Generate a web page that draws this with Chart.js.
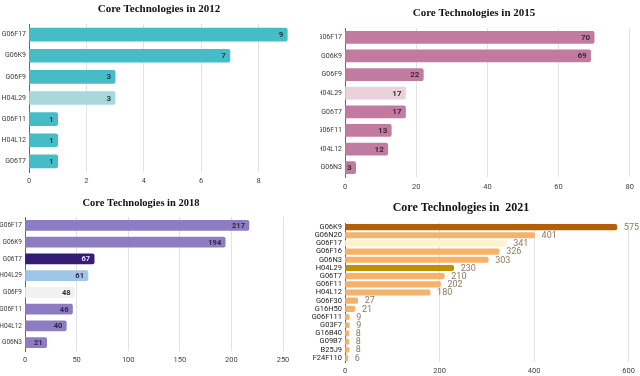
<!DOCTYPE html>
<html>
<head>
<meta charset="utf-8">
<script src="https://cdn.jsdelivr.net/npm/chart.js@4.4.1/dist/chart.umd.min.js"></script>
<style>
    html, body { margin: 0; padding: 0; background: #fff; }
    body { width: 640px; height: 376px; position: relative; overflow: hidden; }
    canvas { position: absolute; }
</style>
</head>
<body>
<canvas id="c2012" style="left:0;top:0"></canvas>
<canvas id="c2015" style="left:320px;top:0"></canvas>
<canvas id="c2018" style="left:0;top:190px"></canvas>
<canvas id="c2021" style="left:290px;top:190px"></canvas>
<script>
// Data
const cats2012 = ['G06F17', 'G06K9', 'G06F9', 'H04L29', 'G06F11', 'H04L12', 'G06T7'];
const vals2012 = [9, 7, 3, 3, 1, 1, 1];

const cats2015 = ['G06F17', 'G06K9', 'G06F9', 'H04L29', 'G06T7', 'G06F11', 'H04L12', 'G06N3'];
const vals2015 = [70, 69, 22, 17, 17, 13, 12, 3];

const cats2018 = ['G06F17', 'G06K9', 'G06T7', 'H04L29', 'G06F9', 'G06F11', 'H04L12', 'G06N3'];
const vals2018 = [217, 194, 67, 61, 48, 46, 40, 21];

const cats2021 = ['G06K9', 'G06N20', 'G06F17', 'G06F16', 'G06N3', 'H04L29', 'G06T7', 'G06F11',
    'H04L12', 'G06F30', 'G16H50', 'G06F111', 'G03F7', 'G16B40', 'G09B7', 'B25J9', 'F24F110'];
const vals2021 = [575, 401, 341, 326, 303, 230, 210, 202, 180, 27, 21, 9, 9, 8, 8, 8, 6];

// value labels at the bar ends
const valueLabels = {
    id: 'valueLabels',
    afterDatasetsDraw(chart, args, opts) {
        const ctx = chart.ctx;
        const meta = chart.getDatasetMeta(0);
        const data = chart.data.datasets[0].data;
        const labels = chart.data.labels;
        ctx.save();
        ctx.font = opts.font;
        ctx.textBaseline = 'middle';
        meta.data.forEach((bar, i) => {
            if (opts.outside) {
                ctx.textAlign = 'left';
                ctx.fillStyle = opts.color;
                ctx.fillText(data[i], bar.x + opts.offset, bar.y + 0.5);
            } else {
                ctx.textAlign = 'right';
                ctx.fillStyle = (opts.lightText || []).includes(labels[i]) ? '#e8e4f4' : opts.color;
                ctx.fillText(data[i], bar.x - opts.offset, bar.y + 0.5);
            }
        });
        ctx.restore();
    }
};

const panelTitle = {
    id: 'panelTitle',
    afterDraw(chart, args, opts) {
        const ctx = chart.ctx;
        ctx.save();
        ctx.font = opts.font;
        ctx.fillStyle = '#111';
        ctx.textAlign = 'center';
        ctx.textBaseline = 'middle';
        ctx.fillText(opts.text, opts.x, opts.y);
        ctx.restore();
    }
};

function makeChart(id, cats, vals, cfg) {
    const canvas = document.getElementById(id);
    canvas.width = cfg.w;
    canvas.height = cfg.h;
    canvas.style.width = cfg.w + 'px';
    canvas.style.height = cfg.h + 'px';

    const colors = cats.map(c => cfg.colorOverrides[c] || cfg.color);

    return new Chart(canvas.getContext('2d'), {
        type: 'bar',
        data: {
            labels: cats,
            datasets: [{
                data: vals,
                backgroundColor: colors,
                borderRadius: 2,
                borderSkipped: 'start',
                barThickness: cfg.barThickness
            }]
        },
        options: {
            indexAxis: 'y',
            responsive: false,
            animation: false,
            layout: {
                padding: { left: 0, top: cfg.top, right: cfg.w - cfg.right, bottom: 0 }
            },
            plugins: {
                legend: { display: false },
                tooltip: { enabled: false },
                valueLabels: cfg.valueLabels,
                panelTitle: cfg.title
            },
            scales: {
                x: {
                    min: 0,
                    max: cfg.max,
                    ticks: {
                        stepSize: cfg.step,
                        padding: cfg.tickPad,
                        color: '#444',
                        font: { family: 'Roboto', size: 7.5 }
                    },
                    grid: { color: '#e2e2e2', drawTicks: false },
                    border: { display: false },
                    afterBuildTicks: s => {
                        s.ticks = s.ticks.filter(t => t.value <= cfg.lastTick);
                    },
                    afterFit: s => { s.height = cfg.h - cfg.bottom; }
                },
                y: {
                    ticks: {
                        padding: cfg.labelPad,
                        color: cfg.labelColor || '#3a3a3a',
                        font: { family: 'Roboto', size: cfg.labelSize },
                        autoSkip: false
                    },
                    grid: { display: false, drawTicks: false },
                    border: { display: true, color: '#666', width: 1 },
                    afterFit: s => { s.width = cfg.left; }
                }
            }
        },
        plugins: [valueLabels, panelTitle]
    });
}

makeChart('c2012', cats2012, vals2012, {
    w: 320, h: 190, left: 29, right: 316, top: 24, bottom: 172,
    max: 10, step: 2, lastTick: 8, tickPad: 5, labelPad: 3, labelSize: 7, barThickness: 13,
    color: '#46BDC6', colorOverrides: { 'H04L29': '#A8D8DC' },
    valueLabels: { font: 'bold 8px Roboto', color: '#2a3a3c', offset: 4 },
    title: { text: 'Core Technologies in 2012', font: 'bold 11px "Liberation Serif"', x: 159, y: 9 }
});

makeChart('c2015', cats2015, vals2015, {
    w: 320, h: 190, left: 25, right: 311, top: 28, bottom: 177,
    max: 80, step: 20, lastTick: 80, tickPad: 6, labelPad: 3, labelSize: 7, barThickness: 12,
    color: '#C27BA0', colorOverrides: { 'H04L29': '#EAD1DC' },
    valueLabels: { font: 'bold 8px Roboto', color: '#3a2a32', offset: 4 },
    title: { text: 'Core Technologies in 2015', font: 'bold 11px "Liberation Serif"', x: 154, y: 13 }
});

makeChart('c2018', cats2018, vals2018, {
    w: 300, h: 186, left: 25, right: 283, top: 27, bottom: 161,
    max: 250, step: 50, lastTick: 250, tickPad: 5, labelPad: 3, labelSize: 6.5, barThickness: 10,
    color: '#8E7CC3',
    colorOverrides: { 'G06T7': '#351C75', 'H04L29': '#9FC5E8', 'G06F9': '#F1F1F1' },
    valueLabels: { font: 'bold 7.5px Roboto', color: '#2e2840', offset: 4, lightText: ['G06T7'] },
    title: { text: 'Core Technologies in 2018', font: 'bold 10.5px "Liberation Serif"', x: 141, y: 13 }
});

makeChart('c2021', cats2021, vals2021, {
    w: 350, h: 186, left: 55, right: 341, top: 33, bottom: 172,
    max: 600, step: 200, lastTick: 600, tickPad: 5, labelPad: 3, labelSize: 7.5, barThickness: 5.5,
    labelColor: '#222',
    color: '#F6B26B',
    colorOverrides: { 'G06K9': '#B45F06', 'G06F17': '#FFF2CC', 'H04L29': '#BF9000' },
    valueLabels: { font: '9px Roboto', color: '#8a7a62', offset: 7, outside: true },
    title: { text: 'Core Technologies in  2021', font: 'bold 12px "Liberation Serif"', x: 171, y: 18 }
});
</script>
</body>
</html>
